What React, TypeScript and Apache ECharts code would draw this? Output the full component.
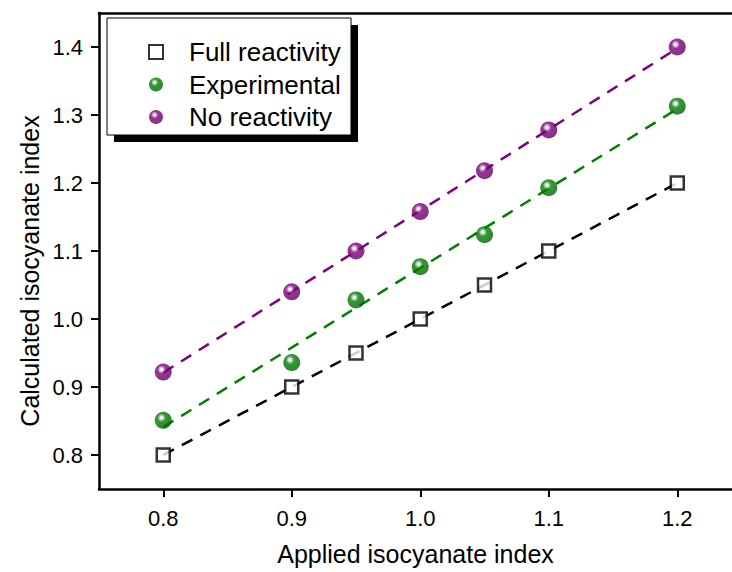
import React, { useEffect, useRef } from "react";
import * as echarts from "echarts";

const appliedIndex = [0.8, 0.9, 0.95, 1.0, 1.05, 1.1, 1.2];
const fullReactivity = [0.8, 0.9, 0.95, 1.0, 1.05, 1.1, 1.2];
const experimental = [0.851, 0.936, 1.028, 1.077, 1.124, 1.193, 1.313];
const noReactivity = [0.922, 1.04, 1.1, 1.158, 1.218, 1.278, 1.4];

const fitX = [0.8, 1.2];
const fitFull = [0.8, 1.2];
const fitExperimental = [0.841, 1.309];
const fitNoReactivity = [0.921, 1.398];

const xTicks = [0.8, 0.9, 1.0, 1.1, 1.2];
const yTicks = [0.8, 0.9, 1.0, 1.1, 1.2, 1.3, 1.4];

const FONT = "Liberation Sans, Arial, sans-serif";

const pair = (xs: number[], ys: number[]) => xs.map((x, i) => [x, ys[i]]);

const sphere = (base: string, dark: string) => ({
  type: "radial",
  x: 0.4,
  y: 0.35,
  r: 0.7,
  colorStops: [
    { offset: 0, color: "#ffffff" },
    { offset: 0.12, color: "#e0e0e0" },
    { offset: 0.35, color: base },
    { offset: 1, color: dark },
  ],
});

export default function App() {
  const ref = useRef<HTMLDivElement>(null);
  useEffect(() => {
    if (!ref.current) return;
    const chart = echarts.init(ref.current, undefined, { renderer: "svg" });
    const greenFill = sphere("#008000", "#006000");
    const purpleFill = sphere("#800080", "#600060");
    const axisCommon = {
      axisLine: { show: true, lineStyle: { color: "#000", width: 2.5 } },
      splitLine: { show: false },
    };
    chart.setOption({
      animation: false,
      backgroundColor: "#fff",
      grid: {
        left: 99,
        top: 13,
        right: 0,
        bottom: 83,
        containLabel: false,
        outerBoundsMode: "none",
      },
      xAxis: [
        {
          type: "value",
          min: 0.75,
          max: 1.2426,
          ...axisCommon,
          axisTick: {
            show: true,
            length: 8,
            lineStyle: { color: "#000", width: 2 },
            customValues: xTicks,
          },
          axisLabel: {
            customValues: xTicks,
            formatter: (v: number) => v.toFixed(1),
            color: "#000",
            fontFamily: FONT,
            fontSize: 22,
            margin: 18,
          },
          name: "Applied isocyanate index",
          nameLocation: "middle",
          nameGap: 52,
          nameTextStyle: { color: "#000", fontFamily: FONT, fontSize: 25 },
        },
        {
          type: "value",
          position: "top",
          min: 0.75,
          max: 1.2426,
          ...axisCommon,
          axisTick: { show: false },
          axisLabel: { show: false },
        },
      ],
      yAxis: {
        type: "value",
        min: 0.75,
        max: 1.45,
        ...axisCommon,
        axisTick: {
          show: true,
          length: 8,
          lineStyle: { color: "#000", width: 2 },
          customValues: yTicks,
        },
        axisLabel: {
          customValues: yTicks,
          formatter: (v: number) => v.toFixed(1),
          color: "#000",
          fontFamily: FONT,
          fontSize: 22,
          margin: 16,
        },
      },
      graphic: [
        {
          type: "rect",
          shape: { x: 114, y: 25, width: 244, height: 117 },
          style: { fill: "#000" },
          z: 0,
        },
        {
          type: "rect",
          shape: { x: 107, y: 18, width: 244, height: 117 },
          style: { fill: "#fff", stroke: "#000", lineWidth: 1 },
          z: 1,
        },
        {
          type: "text",
          x: 30,
          y: 271,
          rotation: Math.PI / 2,
          style: {
            text: "Calculated isocyanate index",
            fill: "#000",
            font: `25px ${FONT}`,
            align: "center",
            verticalAlign: "middle",
          },
        },
      ],
      legend: {
        orient: "vertical",
        left: 143,
        top: 34,
        itemWidth: 14,
        itemHeight: 14,
        itemGap: 6.5,
        data: ["Full reactivity", "Experimental", "No reactivity"],
        textStyle: {
          color: "#000",
          fontFamily: FONT,
          fontSize: 26,
          lineHeight: 26,
          padding: [0, 0, 0, 21],
        },
        z: 10,
      },
      series: [
        {
          type: "line",
          data: pair(fitX, fitFull),
          symbol: "none",
          lineStyle: { color: "#000", width: 2.5, type: [12, 9] },
          z: 2,
          silent: true,
        },
        {
          type: "line",
          data: pair(fitX, fitExperimental),
          symbol: "none",
          lineStyle: { color: "#008000", width: 2.5, type: [12, 9] },
          z: 2,
          silent: true,
        },
        {
          type: "line",
          data: pair(fitX, fitNoReactivity),
          symbol: "none",
          lineStyle: { color: "#800080", width: 2.5, type: [12, 9] },
          z: 2,
          silent: true,
        },
        {
          name: "Full reactivity",
          type: "scatter",
          data: pair(appliedIndex, fullReactivity),
          symbol: "rect",
          symbolSize: 13,
          itemStyle: { color: "#fff", borderColor: "#000", borderWidth: 2.5 },
          z: 5,
        },
        {
          name: "Experimental",
          type: "scatter",
          data: pair(appliedIndex, experimental),
          symbol: "circle",
          symbolSize: 17,
          itemStyle: { color: greenFill, borderWidth: 0 },
          z: 5,
        },
        {
          name: "No reactivity",
          type: "scatter",
          data: pair(appliedIndex, noReactivity),
          symbol: "circle",
          symbolSize: 17,
          itemStyle: { color: purpleFill, borderWidth: 0 },
          z: 5,
        },
      ],
    });
    return () => chart.dispose();
  }, []);
  return <div ref={ref} style={{ width: 732, height: 572, position: "fixed", left: 0, top: 0 }} />;
}
